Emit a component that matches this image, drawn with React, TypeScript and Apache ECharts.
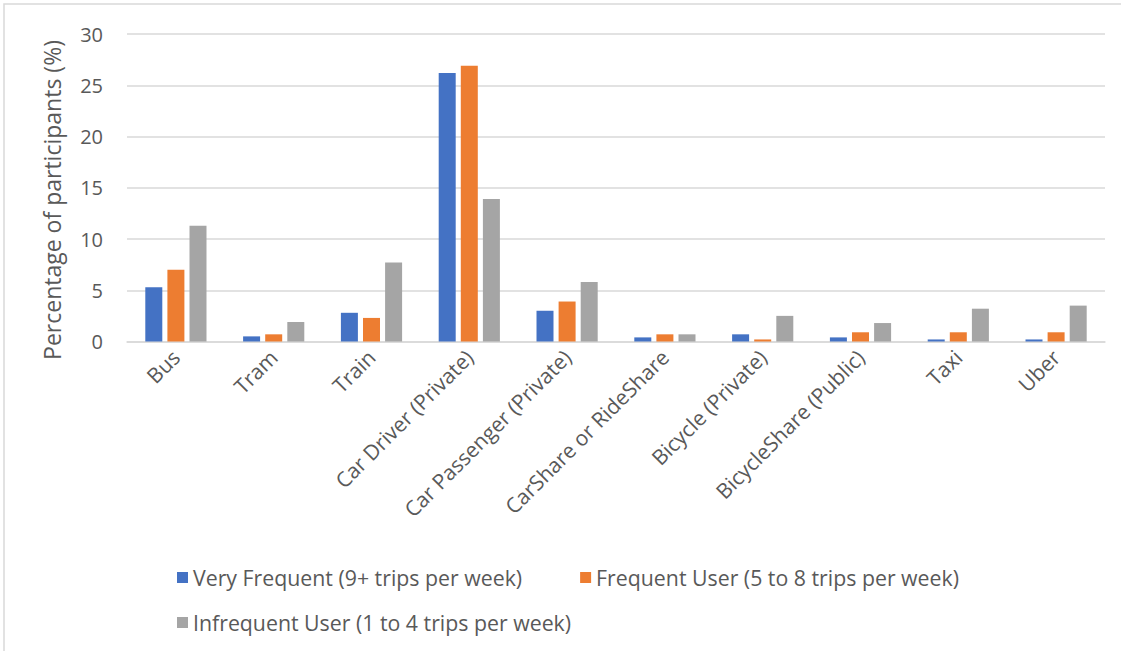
import React, { useEffect, useRef } from "react";
import * as echarts from "echarts";

const categories = [
  "Bus",
  "Tram",
  "Train",
  "Car Driver (Private)",
  "Car Passenger (Private)",
  "CarShare or RideShare",
  "Bicycle (Private)",
  "BicycleShare (Public)",
  "Taxi",
  "Uber",
];

const seriesNames = [
  "Very Frequent (9+ trips per week)",
  "Frequent User (5 to 8 trips per week)",
  "Infrequent User (1 to 4 trips per week)",
];

const veryFrequent = [5.3, 0.5, 2.8, 26.2, 3.0, 0.4, 0.7, 0.4, 0.2, 0.2];
const frequentUser = [7.0, 0.7, 2.3, 26.9, 3.9, 0.7, 0.2, 0.9, 0.9, 0.9];
const infrequentUser = [11.3, 1.9, 7.7, 13.9, 5.8, 0.7, 2.5, 1.8, 3.2, 3.5];

const yAxisTitle = "Percentage of participants (%)";

const colors = ["#4472C4", "#ED7D31", "#A5A5A5"];

const FONT = "'Open Sans', sans-serif";
const TEXT = "#595959";

export default function App() {
  const ref = useRef<HTMLDivElement>(null);

  useEffect(() => {
    document.body.style.margin = "0";
    if (!ref.current) return;
    const chart = echarts.init(ref.current, null, { renderer: "svg" });
    const values = [veryFrequent, frequentUser, infrequentUser];

    chart.setOption({
      animation: false,
      backgroundColor: "#ffffff",
      textStyle: { fontFamily: FONT },
      graphic: [
        {
          type: "rect",
          shape: { x: 4, y: 4, width: 1200, height: 700 },
          style: { fill: "none", stroke: "#d9d9d9", lineWidth: 1.5 },
          silent: true,
        },
        {
          type: "text",
          x: 52,
          y: 200,
          rotation: Math.PI / 2,
          style: {
            text: yAxisTitle,
            fontFamily: FONT,
            fontSize: 23,
            fill: TEXT,
            align: "center",
            verticalAlign: "middle",
          },
          silent: true,
        },
      ],
      grid: { left: 127, right: 16, top: 34, bottom: 309.5, containLabel: false },
      legend: [
        {
          data: [seriesNames[0], seriesNames[1]],
          left: 172,
          top: 562,
          itemWidth: 11,
          itemHeight: 11,
          itemGap: 58,
          icon: "rect",
          textStyle: { fontFamily: FONT, fontSize: 21.3, color: TEXT },
        },
        {
          data: [seriesNames[2]],
          left: 172,
          top: 607,
          itemWidth: 11,
          itemHeight: 11,
          icon: "rect",
          textStyle: { fontFamily: FONT, fontSize: 21.3, color: TEXT },
        },
      ],
      xAxis: {
        type: "category",
        data: categories,
        axisLine: { lineStyle: { color: "#d9d9d9", width: 1.5 } },
        axisTick: { show: false },
        axisLabel: {
          rotate: 45,
          interval: 0,
          margin: 12,
          fontFamily: FONT,
          fontSize: 21,
          color: TEXT,
        },
      },
      yAxis: {
        type: "value",
        min: 0,
        max: 30,
        interval: 5,
        axisLine: { show: false },
        axisTick: { show: false },
        splitLine: { lineStyle: { color: "#d9d9d9", width: 1.5 } },
        axisLabel: { fontFamily: FONT, fontSize: 20, color: TEXT, margin: 24 },
      },
      series: seriesNames.map((name, i) => ({
        name,
        type: "bar",
        data: values[i],
        barWidth: 17,
        barGap: "30%",
        itemStyle: { color: colors[i] },
      })),
    });

    return () => chart.dispose();
  }, []);

  return <div ref={ref} style={{ width: 1121, height: 651 }} />;
}
